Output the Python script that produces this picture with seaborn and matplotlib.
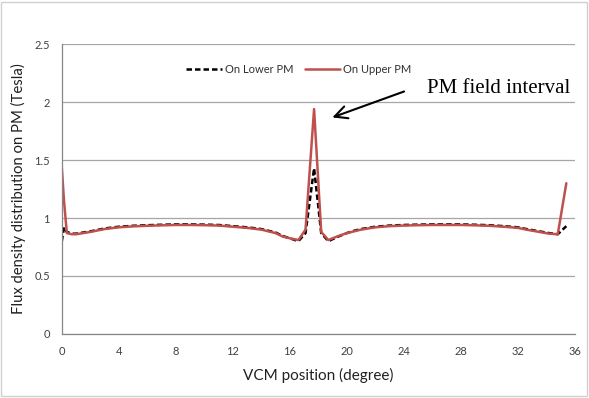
import numpy as np
import pandas as pd
import matplotlib
matplotlib.use("Agg")
import matplotlib.pyplot as plt
from matplotlib.patches import Rectangle
import seaborn as sns

# VCM position (degree) and flux density on each PM (Tesla)
position = [0, 0.15, 0.35, 0.7, 1.0, 1.5, 2, 3, 4, 5,
            6, 7, 8, 9, 10, 11, 12, 13, 14, 15,
            15.5, 16, 16.6, 17.1, 17.7, 18.2, 18.7, 19.3, 20, 20.5,
            21, 22, 23, 24, 25, 26, 27, 28, 29, 30,
            31, 32, 32.6, 33.5, 34.2, 34.8, 35.4]
upper_pm = [1.43, 1.15, 0.87, 0.86, 0.86, 0.87, 0.88, 0.905, 0.92, 0.928,
            0.933, 0.937, 0.94, 0.94, 0.938, 0.935, 0.925, 0.915, 0.90, 0.87,
            0.84, 0.825, 0.81, 0.90, 1.94, 0.88, 0.81, 0.84, 0.87, 0.885,
            0.90, 0.92, 0.93, 0.935, 0.938, 0.94, 0.94, 0.94, 0.937, 0.933,
            0.925, 0.915, 0.90, 0.88, 0.865, 0.86, 1.30]
lower_pm = [0.80, 0.92, 0.88, 0.865, 0.865, 0.875, 0.885, 0.91, 0.925, 0.933,
            0.938, 0.942, 0.945, 0.945, 0.943, 0.94, 0.93, 0.92, 0.905, 0.875,
            0.845, 0.825, 0.80, 0.87, 1.43, 0.87, 0.80, 0.835, 0.87, 0.89,
            0.905, 0.925, 0.935, 0.94, 0.943, 0.945, 0.945, 0.945, 0.942, 0.938,
            0.93, 0.92, 0.905, 0.885, 0.87, 0.86, 0.93]

x_ticks = [0, 4, 8, 12, 16, 20, 24, 28, 32, 36]
y_ticks = [0, 0.5, 1, 1.5, 2, 2.5]
y_tick_labels = ["0", "0.5", "1", "1.5", "2", "2.5"]

df = pd.DataFrame({"pos": position, "lower": lower_pm, "upper": upper_pm})

sns.set_style("white")
plt.rcParams["font.family"] = ["Lato", "DejaVu Sans"]

fig = plt.figure(figsize=(5.89, 3.98), dpi=100)
ax = fig.add_axes([0.105, 0.161, 0.871, 0.728])

grid_c = "#A6A6A6"
sns.lineplot(data=df, x="pos", y="lower", ax=ax, color="black", lw=1.8,
             linestyle=(0, (2.2, 1.2)), sort=False, label="On Lower PM")
sns.lineplot(data=df, x="pos", y="upper", ax=ax, color="#C0504D", lw=1.8,
             sort=False, label="On Upper PM")

ax.set_xlim(0, 36)
ax.set_ylim(0, 2.5)
ax.set_xticks(x_ticks)
ax.set_yticks(y_ticks)
ax.set_yticklabels(y_tick_labels)
ax.yaxis.grid(True, color=grid_c, lw=0.9)
ax.set_axisbelow(True)
for s in ["top", "right"]:
    ax.spines[s].set_visible(False)
for s in ["left", "bottom"]:
    ax.spines[s].set_color("#868686")
    ax.spines[s].set_linewidth(0.9)
ax.tick_params(axis="both", direction="out", length=3.5, width=0.8,
               color="#868686", labelsize=8, labelcolor="#404040", pad=5)

ax.set_xlabel("VCM position (degree)", fontsize=11, color="#202020", labelpad=8)
ax.set_ylabel("Flux density distribution on PM (Tesla)", fontsize=10.7,
              color="#202020", labelpad=6)

ax.legend(loc="center", bbox_to_anchor=(0.462, 0.912), ncol=2, frameon=False,
          fontsize=8, handlelength=3.2, handletextpad=0.3, columnspacing=1.0,
          labelcolor="#303030")

ax.annotate("", xy=(18.8, 1.86), xytext=(24.2, 2.10),
            arrowprops=dict(arrowstyle="->,head_length=0.9,head_width=0.45",
                            lw=1.5, color="black"))
ax.text(25.6, 2.12, "PM field interval", fontsize=15, va="center", ha="left",
        family=["Liberation Serif", "DejaVu Serif"], color="black")

fig.patches.append(Rectangle((0.002, 0.004), 0.995, 0.992, transform=fig.transFigure,
                             fill=False, edgecolor="#D0D0D0", lw=1.0))

fig.savefig("out.png", dpi=100)
